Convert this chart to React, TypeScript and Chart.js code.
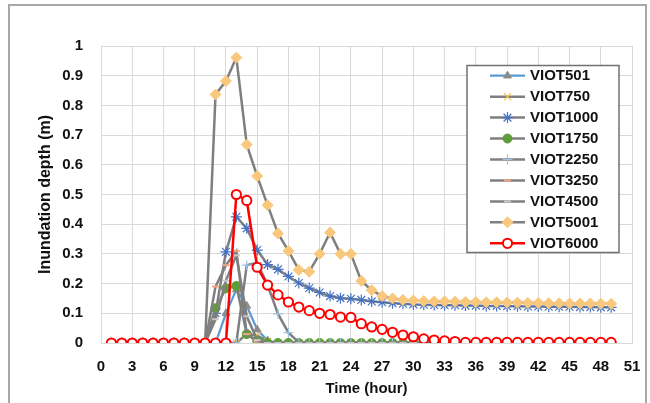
import React, { useEffect, useRef } from 'react';
import { Chart, registerables } from 'chart.js';
import { drawPoint } from 'chart.js/helpers';

Chart.register(...registerables);

const hours = [1, 2, 3, 4, 5, 6, 7, 8, 9, 10, 11, 12, 13, 14, 15, 16, 17, 18, 19, 20, 21, 22, 23, 24, 25, 26, 27, 28, 29, 30, 31, 32, 33, 34, 35, 36, 37, 38, 39, 40, 41, 42, 43, 44, 45, 46, 47, 48, 49];

const xTicksMax = 51;
const xTickStep = 3;
const yTickStep = 0.1;

const viot501 = [0, 0, 0, 0, 0, 0, 0, 0, 0, 0, 0, 0.10, 0.18, 0.125, 0.045, 0.008, 0, 0, 0, 0, 0, 0, 0, 0, 0, 0, 0, 0, 0, 0, 0, 0, 0, 0, 0, 0, 0, 0, 0, 0, 0, 0, 0, 0, 0, 0, 0, 0, 0];
const viot750 = [0, 0, 0, 0, 0, 0, 0, 0, 0, 0, 0, 0, 0, 0.03, 0.025, 0.005, 0, 0, 0, 0, 0, 0, 0, 0, 0, 0, 0, 0, 0, 0, 0, 0, 0, 0, 0, 0, 0, 0, 0, 0, 0, 0, 0, 0, 0, 0, 0, 0, 0];
const viot1000 = [0, 0, 0, 0, 0, 0, 0, 0, 0, 0, 0.10, 0.307, 0.425, 0.386, 0.313, 0.264, 0.248, 0.224, 0.202, 0.185, 0.170, 0.158, 0.151, 0.149, 0.145, 0.140, 0.137, 0.134, 0.132, 0.130, 0.129, 0.128, 0.127, 0.127, 0.126, 0.126, 0.125, 0.125, 0.124, 0.124, 0.123, 0.123, 0.122, 0.122, 0.122, 0.121, 0.121, 0.120, 0.120];
const viot1750 = [0, 0, 0, 0, 0, 0, 0, 0, 0, 0, 0.117, 0.184, 0.192, 0.03, 0.008, 0, 0, 0, 0, 0, 0, 0, 0, 0, 0, 0, 0, 0, 0, 0, 0, 0, 0, 0, 0, 0, 0, 0, 0, 0, 0, 0, 0, 0, 0, 0, 0, 0, 0];
const viot2250 = [0, 0, 0, 0, 0, 0, 0, 0, 0, 0, 0, 0, 0, 0.262, 0.27, 0.195, 0.098, 0.035, 0.002, 0, 0, 0, 0, 0, 0, 0, 0, 0, 0, 0, 0, 0, 0, 0, 0, 0, 0, 0, 0, 0, 0, 0, 0, 0, 0, 0, 0, 0, 0];
const viot3250 = [0, 0, 0, 0, 0, 0, 0, 0, 0, 0, 0.19, 0.262, 0.31, 0.03, 0.005, 0, 0, 0, 0, 0, 0, 0, 0, 0, 0, 0, 0, 0, 0, 0, 0, 0, 0, 0, 0, 0, 0, 0, 0, 0, 0, 0, 0, 0, 0, 0, 0, 0, 0];
const viot4500 = [0, 0, 0, 0, 0, 0, 0, 0, 0, 0, 0.08, 0.21, 0.295, 0.09, 0.01, 0, 0, 0, 0, 0, 0, 0, 0, 0, 0, 0, 0, 0, 0, 0, 0, 0, 0, 0, 0, 0, 0, 0, 0, 0, 0, 0, 0, 0, 0, 0, 0, 0, 0];
const viot5001 = [0, 0, 0, 0, 0, 0, 0, 0, 0, 0, 0.837, 0.882, 0.961, 0.668, 0.562, 0.464, 0.369, 0.31, 0.246, 0.24, 0.30, 0.372, 0.30, 0.30, 0.209, 0.178, 0.158, 0.150, 0.145, 0.143, 0.141, 0.140, 0.140, 0.139, 0.138, 0.138, 0.137, 0.137, 0.136, 0.136, 0.135, 0.135, 0.134, 0.134, 0.133, 0.133, 0.133, 0.132, 0.132];
const viot6000 = [0, 0, 0, 0, 0, 0, 0, 0, 0, 0, 0, 0, 0.50, 0.48, 0.255, 0.195, 0.162, 0.138, 0.121, 0.109, 0.10, 0.096, 0.087, 0.086, 0.065, 0.054, 0.046, 0.036, 0.027, 0.021, 0.014, 0.010, 0.007, 0.005, 0.002, 0.002, 0.002, 0.002, 0.002, 0.002, 0.002, 0.002, 0.002, 0.002, 0.002, 0.002, 0.002, 0.002, 0.002];

const seriesNames = ['VIOT501', 'VIOT750', 'VIOT1000', 'VIOT1750', 'VIOT2250', 'VIOT3250', 'VIOT4500', 'VIOT5001', 'VIOT6000'];
const seriesValues = [viot501, viot750, viot1000, viot1750, viot2250, viot3250, viot4500, viot5001, viot6000];

const GRAY = '#7f7f7f';
const styles = [
  { line: '#5b9bd5', lw: 2.25, ps: 'triangle', r: 4.5, bg: '#8c8c8c', bc: '#8c8c8c', bw: 1 },
  { line: GRAY, lw: 2.5, ps: 'crossRot', r: 5, bg: '#f2c14e', bc: '#f2c14e', bw: 1.2 },
  { line: GRAY, lw: 2.5, ps: 'star', r: 5.5, bg: '#4472c4', bc: '#4472c4', bw: 1.2 },
  { line: GRAY, lw: 2.5, ps: 'circle', r: 4.5, bg: '#5e9e3a', bc: '#5e9e3a', bw: 1 },
  { line: GRAY, lw: 2.5, ps: 'cross', r: 5, bg: '#9dc3e6', bc: '#9dc3e6', bw: 1.2 },
  { line: GRAY, lw: 2.5, ps: 'line', r: 3.5, bg: '#f4a582', bc: '#f4a582', bw: 2 },
  { line: GRAY, lw: 2.5, ps: 'line', r: 3.5, bg: '#c8c8c8', bc: '#c8c8c8', bw: 2 },
  { line: GRAY, lw: 2.5, ps: 'rectRot', r: 5.5, bg: '#fac87c', bc: '#fac87c', bw: 1 },
  { line: '#ff0000', lw: 2.5, ps: 'circle', r: 4.6, bg: '#ffffff', bc: '#ff0000', bw: 2 },
];

const legendPlugin = {
  id: 'boxLegend',
  afterDraw(chart: any) {
    const ctx = chart.ctx;
    const bx = 467, by = 65.5, bw = 152, bh = 187;
    ctx.save();
    ctx.fillStyle = '#ffffff';
    ctx.fillRect(bx, by, bw, bh);
    ctx.strokeStyle = '#707070';
    ctx.lineWidth = 1.5;
    ctx.strokeRect(bx, by, bw, bh);
    chart.data.datasets.forEach((ds: any, i: number) => {
      const y = 75.7 + i * 20.95;
      ctx.strokeStyle = ds.borderColor;
      ctx.lineWidth = ds.borderWidth;
      ctx.beginPath();
      ctx.moveTo(490, y);
      ctx.lineTo(525, y);
      ctx.stroke();
      ctx.fillStyle = ds.pointBackgroundColor;
      ctx.strokeStyle = ds.pointBorderColor;
      ctx.lineWidth = ds.pointBorderWidth;
      drawPoint(ctx, { pointStyle: ds.pointStyle, radius: ds.pointRadius, borderWidth: ds.pointBorderWidth, rotation: 0 }, 507.5, y);
      ctx.fillStyle = '#111111';
      ctx.font = 'bold 15px "Liberation Sans", Arial, sans-serif';
      ctx.textBaseline = 'middle';
      ctx.textAlign = 'left';
      ctx.fillText(ds.label, 530, y + 0.5);
    });
    ctx.restore();
  },
};

export default function App() {
  const ref = useRef<HTMLCanvasElement>(null);
  useEffect(() => {
    if (!ref.current) return;
    const datasets = seriesNames.map((name, i) => ({
      label: name,
      data: hours.map((h, j) => ({ x: h, y: seriesValues[i][j] })),
      borderColor: styles[i].line,
      borderWidth: styles[i].lw,
      pointStyle: styles[i].ps,
      pointRadius: styles[i].r,
      pointBackgroundColor: styles[i].bg,
      pointBorderColor: styles[i].bc,
      pointBorderWidth: styles[i].bw,
      pointHoverRadius: styles[i].r,
      tension: 0,
      fill: false,
      order: seriesNames.length - 1 - i,
    }));
    const font = { family: '"Liberation Sans", Arial, sans-serif', size: 15, weight: 'bold' as const };
    const titleFontY = { family: '"Liberation Sans", Arial, sans-serif', size: 16, weight: 'bold' as const };
    const chart = new Chart(ref.current, {
      type: 'line',
      data: { datasets },
      plugins: [legendPlugin],
      options: {
        animation: false,
        responsive: false,
        devicePixelRatio: 1,
        layout: { padding: { left: 0, top: 46, right: 18, bottom: 0 } },
        plugins: { legend: { display: false }, tooltip: { enabled: false } },
        scales: {
          x: {
            type: 'linear',
            min: 0,
            max: xTicksMax,
            afterFit: (s: any) => { s.height = 60; s.paddingLeft = 0; s.paddingRight = 0; },
            ticks: { stepSize: xTickStep, color: '#111111', font, padding: 15, maxRotation: 0, autoSkip: false },
            grid: { color: '#d9d9d9', lineWidth: 1, drawTicks: false },
            border: { color: '#d9d9d9' },
            title: { display: true, text: 'Time (hour)', color: '#111111', font, padding: { top: 0, bottom: 5 } },
          },
          y: {
            type: 'linear',
            min: 0,
            max: 1,
            afterFit: (s: any) => { s.width = 101; s.paddingTop = 0; s.paddingBottom = 0; },
            ticks: {
              stepSize: yTickStep,
              color: '#111111',
              font,
              padding: 18,
              callback: (v: any) => String(Math.round(Number(v) * 10) / 10),
            },
            grid: { color: '#d9d9d9', lineWidth: 1, drawTicks: false },
            border: { color: '#d9d9d9' },
            title: { display: true, text: 'Inundation depth (m)', color: '#111111', font: titleFontY, padding: { top: 36, bottom: 0 } },
          },
        },
      },
    });
    return () => chart.destroy();
  }, []);
  return (
    <div style={{ position: 'fixed', left: 0, top: 0, width: 650, height: 403, background: '#ffffff', overflow: 'hidden' }}>
      <div style={{ position: 'absolute', left: 8, top: 4, width: 635, height: 430, border: '2px solid #a8a8a8', borderBottom: 'none' }} />
      <canvas ref={ref} width={650} height={403} style={{ position: 'absolute', left: 0, top: 0, display: 'block' }} />
    </div>
  );
}
